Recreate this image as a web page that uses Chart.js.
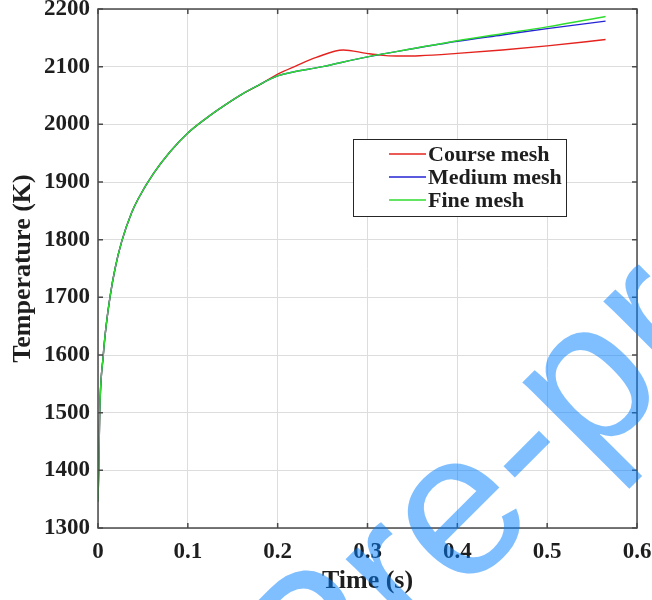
<!DOCTYPE html>
<html>
<head>
<meta charset="utf-8">
<script src="https://cdn.jsdelivr.net/npm/chart.js@4.4.1/dist/chart.umd.min.js"></script>
<style>
html,body{margin:0;padding:0;background:#fff;}
#wrap{width:652px;height:600px;}
</style>
</head>
<body>
<div id="wrap"><canvas id="c" width="652" height="600"></canvas></div>
<script>
// ---- data ----
const seriesNames = ['Course mesh', 'Medium mesh', 'Fine mesh'];
const seriesColors = ['#e4231f', '#2424d4', '#2fdc2f'];

// early transient, identical for all three meshes
const timeCommon = [0, 0.0008, 0.0019, 0.0059, 0.009, 0.0133, 0.019, 0.0264, 0.0375, 0.0448, 0.0615, 0.08, 0.1, 0.12, 0.14, 0.16, 0.18];
const tempCommon = [1346, 1400, 1500, 1600, 1650, 1700, 1750, 1797, 1847, 1871, 1914, 1952, 1985, 2010, 2032, 2052, 2069];

const timeCourseTail = [0.19, 0.2, 0.22, 0.243, 0.273, 0.299, 0.314, 0.332, 0.358, 0.4, 0.45, 0.5, 0.565];
const tempCourseTail = [2078, 2087, 2101, 2116, 2129, 2123, 2120, 2118.5, 2119, 2123, 2129, 2136, 2147];

const timeMediumTail = [0.19, 0.2, 0.25, 0.3, 0.35, 0.4, 0.45, 0.5, 0.565];
const tempMediumTail = [2077, 2084, 2100, 2117, 2131, 2144, 2155, 2166, 2179];

const timeFineTail = [0.19, 0.2, 0.25, 0.3, 0.35, 0.4, 0.45, 0.5, 0.565];
const tempFineTail = [2077, 2084, 2100, 2117, 2131, 2145, 2157, 2169, 2187];

const xTickValues = [0, 0.1, 0.2, 0.3, 0.4, 0.5, 0.6];
const yTickValues = [1300, 1400, 1500, 1600, 1700, 1800, 1900, 2000, 2100, 2200];
const xTitle = 'Time (s)';
const yTitle = 'Temperature (K)';
const watermarkText = 'Journal Pre-proof';

// ---- build datasets ----
function pts(ts, vs) { return ts.map((t, i) => ({x: t, y: vs[i]})); }
const courseData = pts(timeCommon, tempCommon).concat(pts(timeCourseTail, tempCourseTail));
const mediumData = pts(timeCommon, tempCommon).concat(pts(timeMediumTail, tempMediumTail));
const fineData = pts(timeCommon, tempCommon).concat(pts(timeFineTail, tempFineTail));

const serif = '"Liberation Serif", "Times New Roman", serif';
const textColor = '#1e1e1e';
const axisColor = '#4a4a4a';

const frameLegendPlugin = {
  id: 'frameLegend',
  afterDraw(chart) {
    const ctx = chart.ctx;
    const a = chart.chartArea;
    const xs = chart.scales.x, ys = chart.scales.y;
    ctx.save();
    // frame
    ctx.strokeStyle = axisColor;
    ctx.lineWidth = 1.5;
    ctx.strokeRect(a.left, a.top, a.right - a.left, a.bottom - a.top);
    // inward ticks
    const tl = 5;
    ctx.beginPath();
    xTickValues.forEach(v => {
      const px = xs.getPixelForValue(v);
      ctx.moveTo(px, a.bottom); ctx.lineTo(px, a.bottom - tl);
      ctx.moveTo(px, a.top); ctx.lineTo(px, a.top + tl);
    });
    yTickValues.forEach(v => {
      const py = ys.getPixelForValue(v);
      ctx.moveTo(a.left, py); ctx.lineTo(a.left + tl, py);
      ctx.moveTo(a.right, py); ctx.lineTo(a.right - tl, py);
    });
    ctx.stroke();

    // legend box (MATLAB style)
    const lx = 353, ly = 139, lw = 214, lh = 78;
    ctx.fillStyle = '#fff';
    ctx.fillRect(lx, ly, lw, lh);
    ctx.strokeStyle = '#262626';
    ctx.lineWidth = 1;
    ctx.strokeRect(lx + 0.5, ly + 0.5, lw - 1, lh - 1);
    ctx.font = 'bold 22px ' + serif;
    ctx.textBaseline = 'middle';
    ctx.textAlign = 'left';
    chart.data.datasets.forEach((ds, i) => {
      const ry = 154 + i * 23;
      ctx.strokeStyle = ds.borderColor;
      ctx.lineWidth = 1.4;
      ctx.beginPath();
      ctx.moveTo(389, ry); ctx.lineTo(426, ry);
      ctx.stroke();
      ctx.fillStyle = textColor;
      ctx.fillText(ds.label, 428, ry + 1);
    });

    // watermark overlay
    ctx.font = '205px "Liberation Sans", Arial, sans-serif';
    ctx.fillStyle = 'rgba(0,128,255,0.5)';
    ctx.textBaseline = 'alphabetic';
    ctx.translate(-200, 1258);
    ctx.rotate(-Math.PI / 4);
    ctx.fillText(watermarkText, 0, 0);
    ctx.restore();
  }
};

new Chart(document.getElementById('c'), {
  type: 'line',
  data: {
    datasets: [
      {label: seriesNames[0], data: courseData, borderColor: seriesColors[0], order: 2},
      {label: seriesNames[1], data: mediumData, borderColor: seriesColors[1], order: 1},
      {label: seriesNames[2], data: fineData, borderColor: seriesColors[2], order: 0}
    ].map(d => Object.assign(d, {
      borderWidth: 1.4, pointRadius: 0, fill: false, cubicInterpolationMode: 'monotone', backgroundColor: d.borderColor
    }))
  },
  options: {
    responsive: false,
    devicePixelRatio: 1,
    animation: false,
    events: [],
    layout: {padding: {top: 9, right: 15, left: 0, bottom: 0}},
    plugins: {legend: {display: false}, tooltip: {enabled: false}, title: {display: false}},
    scales: {
      x: {
        type: 'linear', min: 0, max: 0.6,
        afterBuildTicks: s => { s.ticks = xTickValues.map(v => ({value: v})); },
        ticks: {
          callback: v => (v === 0 ? '0' : v.toFixed(1)),
          font: {family: serif, size: 23, weight: 'bold'}, color: textColor, padding: 10, maxRotation: 0
        },
        grid: {color: '#dddddd', lineWidth: 1, drawTicks: false},
        border: {display: false},
        title: {display: true, text: xTitle, color: textColor, font: {family: serif, size: 26, weight: 'bold'}, padding: {top: 0, bottom: 3}},
        afterFit: s => { s.height = 72; s.paddingLeft = 0; s.paddingRight = 0; s.paddingTop = 0; s.paddingBottom = 0; }
      },
      y: {
        type: 'linear', min: 1300, max: 2200,
        afterBuildTicks: s => { s.ticks = yTickValues.map(v => ({value: v})); },
        ticks: {
          callback: v => String(v),
          font: {family: serif, size: 23, weight: 'bold'}, color: textColor, padding: 8
        },
        grid: {color: '#dddddd', lineWidth: 1, drawTicks: false},
        border: {display: false},
        title: {display: true, text: yTitle, color: textColor, font: {family: serif, size: 26, weight: 'bold'}, padding: {top: 8, bottom: 0}},
        afterFit: s => { s.width = 98; s.paddingLeft = 0; s.paddingRight = 0; s.paddingTop = 0; s.paddingBottom = 0; }
      }
    }
  },
  plugins: [frameLegendPlugin]
});
</script>
</body>
</html>
